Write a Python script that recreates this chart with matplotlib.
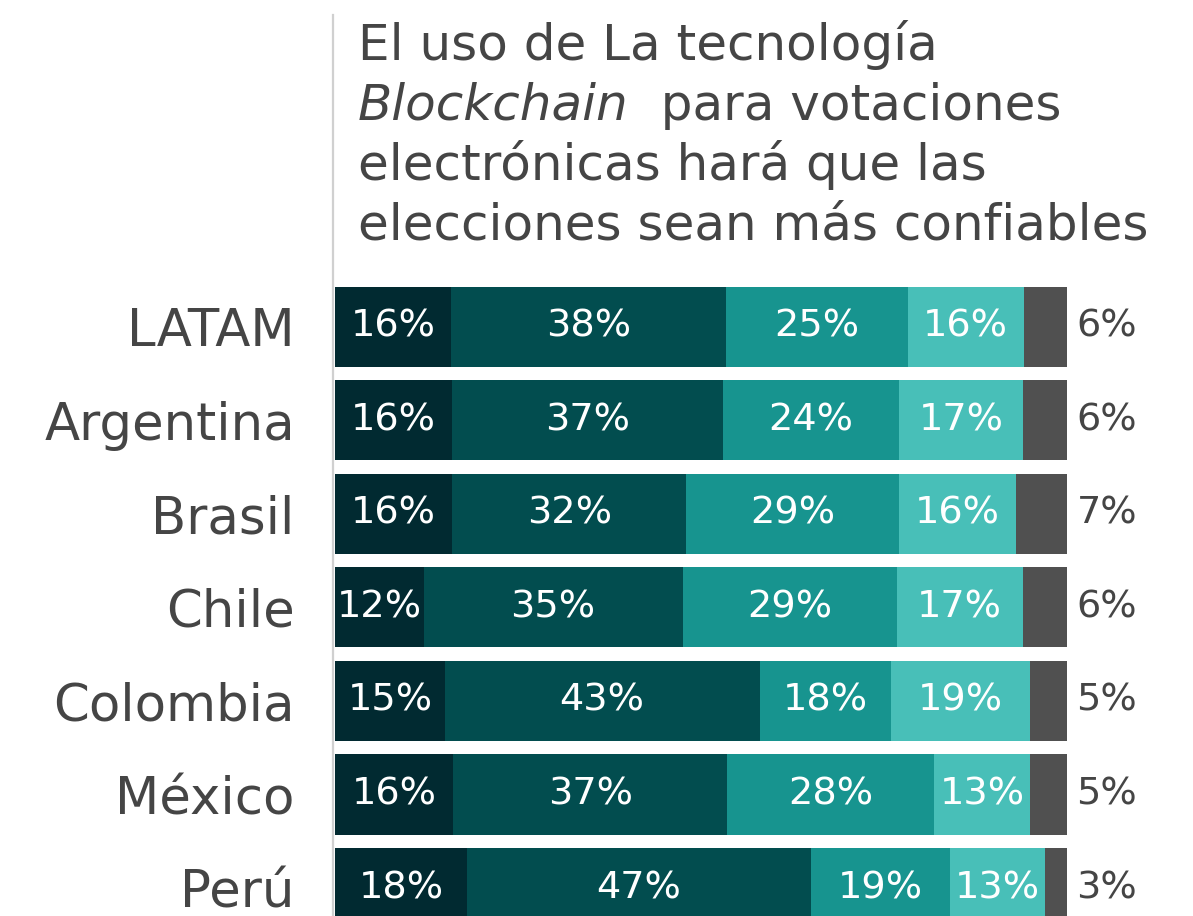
import numpy as np
import matplotlib.pyplot as plt
from matplotlib.lines import Line2D

plt.rcParams['font.family'] = ['DejaVu Sans']

# datos
paises = ['LATAM', 'Argentina', 'Brasil', 'Chile', 'Colombia', 'México', 'Perú']
muy_de_acuerdo = [16, 16, 16, 12, 15, 16, 18]
de_acuerdo = [38, 37, 32, 35, 43, 37, 47]
neutral = [25, 24, 29, 29, 18, 28, 19]
en_desacuerdo = [16, 17, 16, 17, 19, 13, 13]
muy_en_desacuerdo = [6, 6, 7, 6, 5, 5, 3]

series = [muy_de_acuerdo, de_acuerdo, neutral, en_desacuerdo, muy_en_desacuerdo]
colores = ['#012a31', '#024d4f', '#17948f', '#48bfb8', '#505050']
gris = '#454545'

W, H = 1193, 916
fig = plt.figure(figsize=(W / 100, H / 100), dpi=100)
ax = fig.add_axes([335 / W, 0, (1067 - 335) / W, 1 - 280 / H])

datos = np.array(series, dtype=float)
total = datos.sum(axis=0)
anchos = datos / total * 100
y = np.arange(len(paises))
izq = np.zeros(len(paises))
for k in range(len(series)):
    ax.barh(y, anchos[k], left=izq, height=0.855, color=colores[k], linewidth=0)
    for i in range(len(paises)):
        txt = f'{series[k][i]}%'
        if k < 4:
            ax.text(izq[i] + anchos[k][i] / 2, y[i], txt, ha='center', va='center',
                    color='white', fontsize=27.5)
        else:
            ax.text(101.3, y[i], txt, ha='left', va='center', color=gris, fontsize=27.5)
    izq += anchos[k]

ax.set_xlim(0, 100)
ax.set_ylim(6.298, -0.497)
ax.set_yticks(y)
ax.set_yticklabels(paises, fontsize=37, color=gris)
ax.tick_params(axis='y', length=0, pad=29)
ax.set_xticks([])
for s in ax.spines.values():
    s.set_visible(False)

# línea vertical
fig.add_artist(Line2D([333 / W, 333 / W], [0, 1 - 15 / H], color='#d0d0d0', linewidth=1.6))

# título
x0 = 358 / W
tam = 36
fig.text(x0, 1 - 60 / H, 'El uso de La tecnología', fontsize=tam, color=gris, va='baseline')
t_it = fig.text(x0, 1 - 120 / H, 'Blockchain', fontsize=tam, color=gris, va='baseline', style='italic')
fig.canvas.draw()
bb = t_it.get_window_extent()
fig.text(bb.x1 / W, 1 - 120 / H, '  para votaciones', fontsize=tam, color=gris, va='baseline')
fig.text(x0, 1 - 180 / H, 'electrónicas hará que las', fontsize=tam, color=gris, va='baseline')
fig.text(x0, 1 - 240 / H, 'elecciones sean más confiables', fontsize=tam, color=gris, va='baseline')

fig.savefig('out.png', dpi=100)
